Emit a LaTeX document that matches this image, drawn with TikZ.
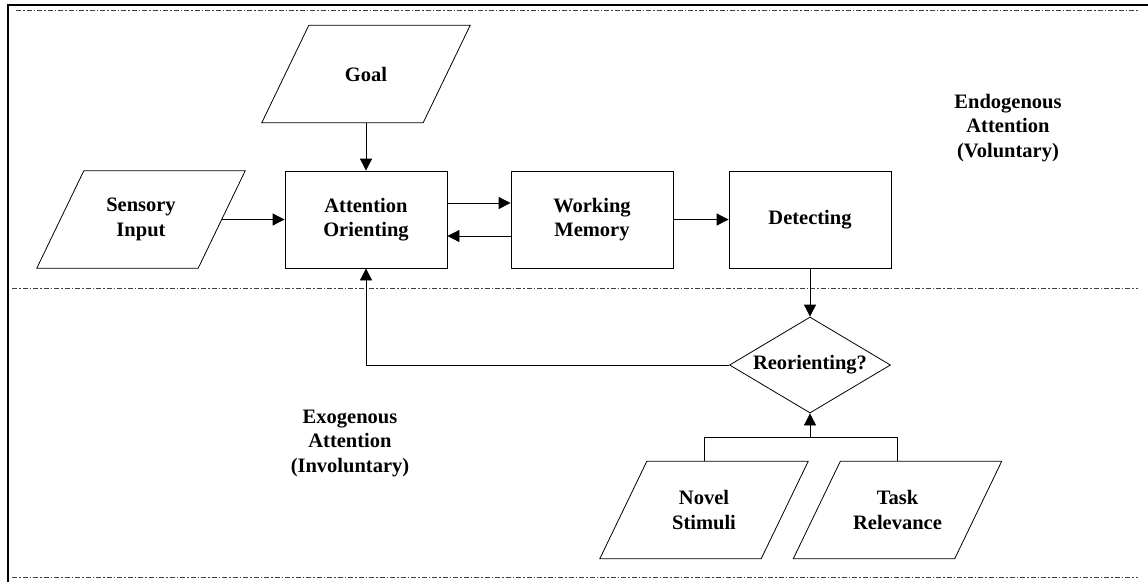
\documentclass[tikz,border=0pt]{standalone}
\usepackage{fontspec}
\setmainfont{Liberation Serif}
\usetikzlibrary{shapes.geometric,arrows.meta,calc}

\tikzset{
  base/.style={font=\bfseries\fontsize{20.5}{24.5}\selectfont, align=center, inner sep=0pt},
  procbox/.style={base, draw, line width=0.8pt, minimum width=162pt, minimum height=97pt},
  databox/.style={base, minimum width=161pt, minimum height=97pt},
  decision/.style={base, draw, line width=0.8pt, shape=diamond, aspect=1.68,
                   minimum width=161pt, minimum height=96pt},
  arr/.style={line width=0.8pt, -{Triangle[length=12pt,width=12pt]}},
  wire/.style={line width=0.8pt},
  zone/.style={line width=1pt, black!75, dash pattern=on 5pt off 2pt on 1.5pt off 2pt},
  frame/.style={line width=2.4pt, black},
  skew/.style={line width=0.8pt}
}

\begin{document}
\begin{tikzpicture}[x=1pt,y=-1pt]
  \useasboundingbox (0,0) rectangle (1148,582);

  % outer frame (top and left edges)
  \draw[frame] (1148,5) -- (8,5) -- (8,582);

  % zone separators
  \draw[zone] (16,10) -- (1138,10);
  \draw[zone] (12,288) -- (1138,288);
  \draw[zone] (12,577) -- (1138,577);

  % process blocks
  \node[procbox] (att) at (366,219.5) {Attention\\Orienting};
  \node[procbox] (wm)  at (592,219.5) {Working\\Memory};
  \node[procbox] (det) at (810,219.5) {Detecting};
  \node[decision] (reo) at (810,365) {Reorienting?};

  % data (parallelogram) blocks
  \node[databox] (goal)  at (366,74)    {Goal};
  \node[databox] (sens)  at (141,219.5) {Sensory\\Input};
  \node[databox] (novel) at (704,510)   {Novel\\Stimuli};
  \node[databox] (task)  at (897.5,510) {Task\\Relevance};
  \foreach \n in {goal,sens,novel,task}
    \draw[skew] ($(\n.south west)+(-23.5,0)$) -- ($(\n.south east)+(-23.5,0)$)
      -- ($(\n.north east)+(23.5,0)$) -- ($(\n.north west)+(23.5,0)$) -- cycle;

  % zone labels
  \node[base] (endo) at (1008,128) {Endogenous\\Attention\\(Voluntary)};
  \node[base] (exo)  at (350,443)  {Exogenous\\Attention\\(Involuntary)};

  % connectors
  \draw[arr] (goal.south) -- (att.north);
  \draw[arr] (sens.east) -- (att.west);
  \draw[arr] ([yshift=16.5pt]att.east) -- ([yshift=16.5pt]wm.west);
  \draw[arr] ([yshift=-16.5pt]wm.west) -- ([yshift=-16.5pt]att.east);
  \draw[arr] (wm.east) -- (det.west);
  \draw[arr] (det.south) -- (reo.north);
  \draw[arr] (reo.west) -| (att.south);

  \coordinate (join) at (810,437);
  \draw[wire] (novel.north) |- (join);
  \draw[wire] (task.north) |- (join);
  \draw[arr] (join) -- (reo.south);
\end{tikzpicture}
\end{document}
